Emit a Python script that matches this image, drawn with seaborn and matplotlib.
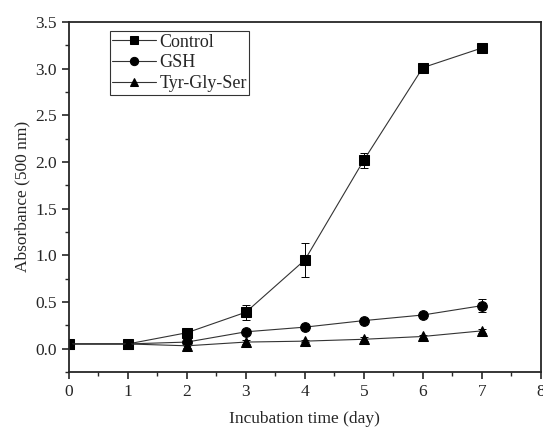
import matplotlib
matplotlib.use("Agg")
import matplotlib.pyplot as plt
import seaborn as sns
import pandas as pd
from matplotlib.ticker import MultipleLocator

sns.set_style("ticks")
plt.rcParams['font.family'] = ['Liberation Serif', 'DejaVu Serif']

days = [0, 1, 2, 3, 4, 5, 6, 7]
control = [0.05, 0.05, 0.17, 0.39, 0.95, 2.02, 3.01, 3.22]
control_err = [0.0, 0.01, 0.02, 0.08, 0.18, 0.08, 0.02, 0.02]
gsh = [0.05, 0.05, 0.07, 0.18, 0.23, 0.30, 0.36, 0.46]
gsh_err = [0.0, 0.01, 0.01, 0.02, 0.02, 0.02, 0.02, 0.07]
tyr = [0.05, 0.05, 0.03, 0.07, 0.08, 0.10, 0.13, 0.19]
tyr_err = [0.0, 0.01, 0.02, 0.02, 0.01, 0.02, 0.02, 0.02]

names = ["Control", "GSH", "Tyr-Gly-Ser"]
df = pd.DataFrame({
    "day": days * 3,
    "value": control + gsh + tyr,
    "group": [n for n in names for _ in days],
})

fig = plt.figure(figsize=(5.43, 4.29), dpi=100)
ax = fig.add_axes([0.127, 0.133, 0.869, 0.816])

for y, e in [(control, control_err), (gsh, gsh_err), (tyr, tyr_err)]:
    ax.errorbar(days, y, yerr=e, fmt="none", ecolor="black", elinewidth=0.7, capsize=3, capthick=0.7)

sns.lineplot(data=df, x="day", y="value", hue="group", style="group",
             palette=["#333333"] * 3, markers={"Control": "s", "GSH": "o", "Tyr-Gly-Ser": "^"},
             dashes=False, markersize=7, linewidth=0.8, markeredgecolor="black",
             markerfacecolor="black", ax=ax)

ax.set_xlim(0, 8)
ax.set_ylim(-0.25, 3.5)
ax.xaxis.set_major_locator(MultipleLocator(1))
ax.xaxis.set_minor_locator(MultipleLocator(0.5))
ax.yaxis.set_major_locator(MultipleLocator(0.5))
ax.yaxis.set_minor_locator(MultipleLocator(0.25))
ax.tick_params(which="major", direction="out", length=5, width=1.2, labelsize=12.5)
ax.tick_params(which="minor", direction="out", length=3, width=1.0)
for s in ax.spines.values():
    s.set_linewidth(1.3)
    s.set_visible(True)
ax.set_xlabel("Incubation time (day)", fontsize=12.5, labelpad=8)
ax.set_ylabel("Absorbance (500 nm)", fontsize=12.5)

leg = ax.legend(loc="upper left", bbox_to_anchor=(0.086, 0.974), fontsize=13, frameon=True,
                fancybox=False, edgecolor="black", handlelength=2.4, borderpad=0.15,
                labelspacing=0.2, handletextpad=0.2, borderaxespad=0, markerscale=0.85)
leg.get_frame().set_linewidth(0.8)

fig.savefig("out.png", dpi=100)
